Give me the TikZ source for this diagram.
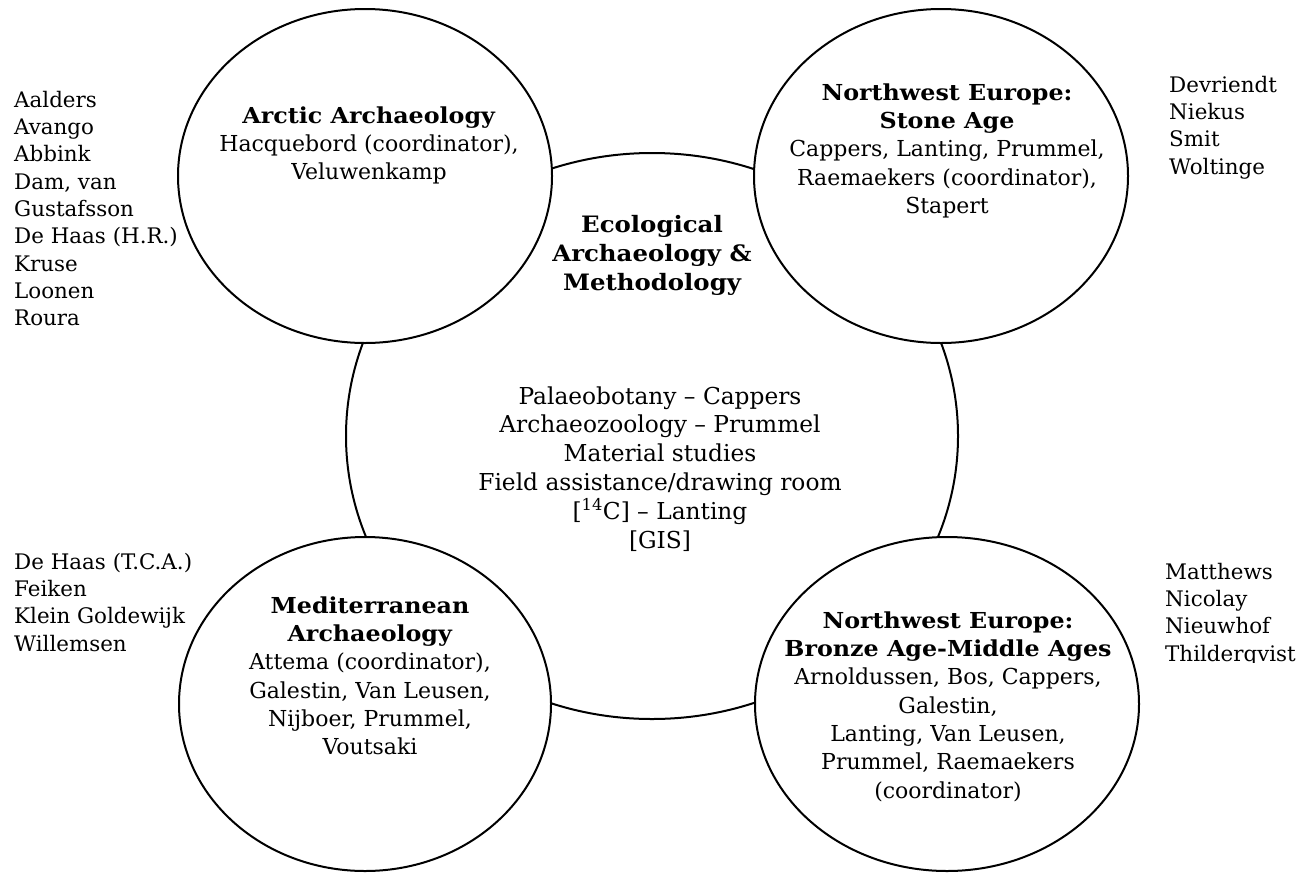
\documentclass[tikz,border=0pt]{standalone}
\usepackage{fontspec}
\setmainfont{DejaVu Serif}[BoldFeatures={FakeStretch=1.08}]
\usetikzlibrary{shapes.geometric}
\begin{document}
\begin{tikzpicture}[x=1pt,y=-1pt,
  ring/.style={draw, line width=2pt, shape=ellipse, inner sep=0pt, fill=white},
  blk/.style={inner sep=0pt, align=center, anchor=north, font=\fontsize{22}{28.3}\selectfont},
  ttl/.style={inner sep=0pt, align=center, anchor=north, font=\bfseries\fontsize{22.6}{29}\selectfont},
  body/.style={inner sep=0pt, align=center, anchor=north, font=\fontsize{23.3}{28.8}\selectfont},
  lst/.style={inner sep=0pt, align=left, anchor=north west, font=\fontsize{21.4}{27.3}\selectfont}]
\useasboundingbox (0,0) rectangle (1311,873);
% central ring
\node[ring, fill=none, minimum width=612pt, minimum height=566pt] (eco) at (652,436) {};
% four rings
\node[ring, minimum width=374pt, minimum height=334pt] (arc) at (365,176) {};
\node[ring, minimum width=374pt, minimum height=334pt] (nwsa) at (941,176) {};
\node[ring, minimum width=372pt, minimum height=334pt] (med) at (365,704) {};
\node[ring, minimum width=384pt, minimum height=334pt] (nwba) at (947,704) {};
% central texts
\node[ttl] (ecot) at (652,211.7) {\strut Ecological\\Archaeology \&\\Methodology};
\node[body] (ecob) at (660,383.8) {\strut Palaeobotany – Cappers\\Archaeozoology – Prummel\\Material studies\\Field assistance/drawing room\\{[\textsuperscript{14}C] – Lanting}\\{[GIS]}};
% ring texts
\node[blk] (arct) at (369,103.2) {\strut\textbf{Arctic Archaeology}\\Hacquebord (coordinator),\\Veluwenkamp};
\node[blk] (nwsat) at (947,80.2) {\strut\textbf{Northwest Europe:}\\\textbf{Stone Age}\\Cappers, Lanting, Prummel,\\Raemaekers (coordinator),\\Stapert};
\node[blk] (medt) at (370,593.2) {\strut\textbf{Mediterranean}\\\textbf{Archaeology}\\Attema (coordinator),\\Galestin, Van Leusen,\\Nijboer, Prummel,\\Voutsaki};
\node[blk] (nwbat) at (948,608.2) {\strut\textbf{Northwest Europe:}\\\textbf{Bronze Age-Middle Ages}\\Arnoldussen, Bos, Cappers,\\Galestin,\\Lanting, Van Leusen,\\Prummel, Raemaekers\\(coordinator)};
% name lists
\node[lst] (arcl) at (14,87.9) {\strut Aalders\\Avango\\Abbink\\Dam, van\\Gustafsson\\De Haas (H.R.)\\Kruse\\Loonen\\Roura};
\node[lst] (nwsal) at (1169,72.9) {\strut Devriendt\\Niekus\\Smit\\Woltinge};
\node[lst] (medl) at (14,549.9) {\strut De Haas (T.C.A.)\\Feiken\\Klein Goldewijk\\Willemsen};
\begin{scope}
\clip (1100,530) rectangle (1311,662);
\node[lst] (nwbal) at (1165,559.9) {\strut Matthews\\Nicolay\\Nieuwhof\\Thilderqvist};
\end{scope}
\end{tikzpicture}
\end{document}
